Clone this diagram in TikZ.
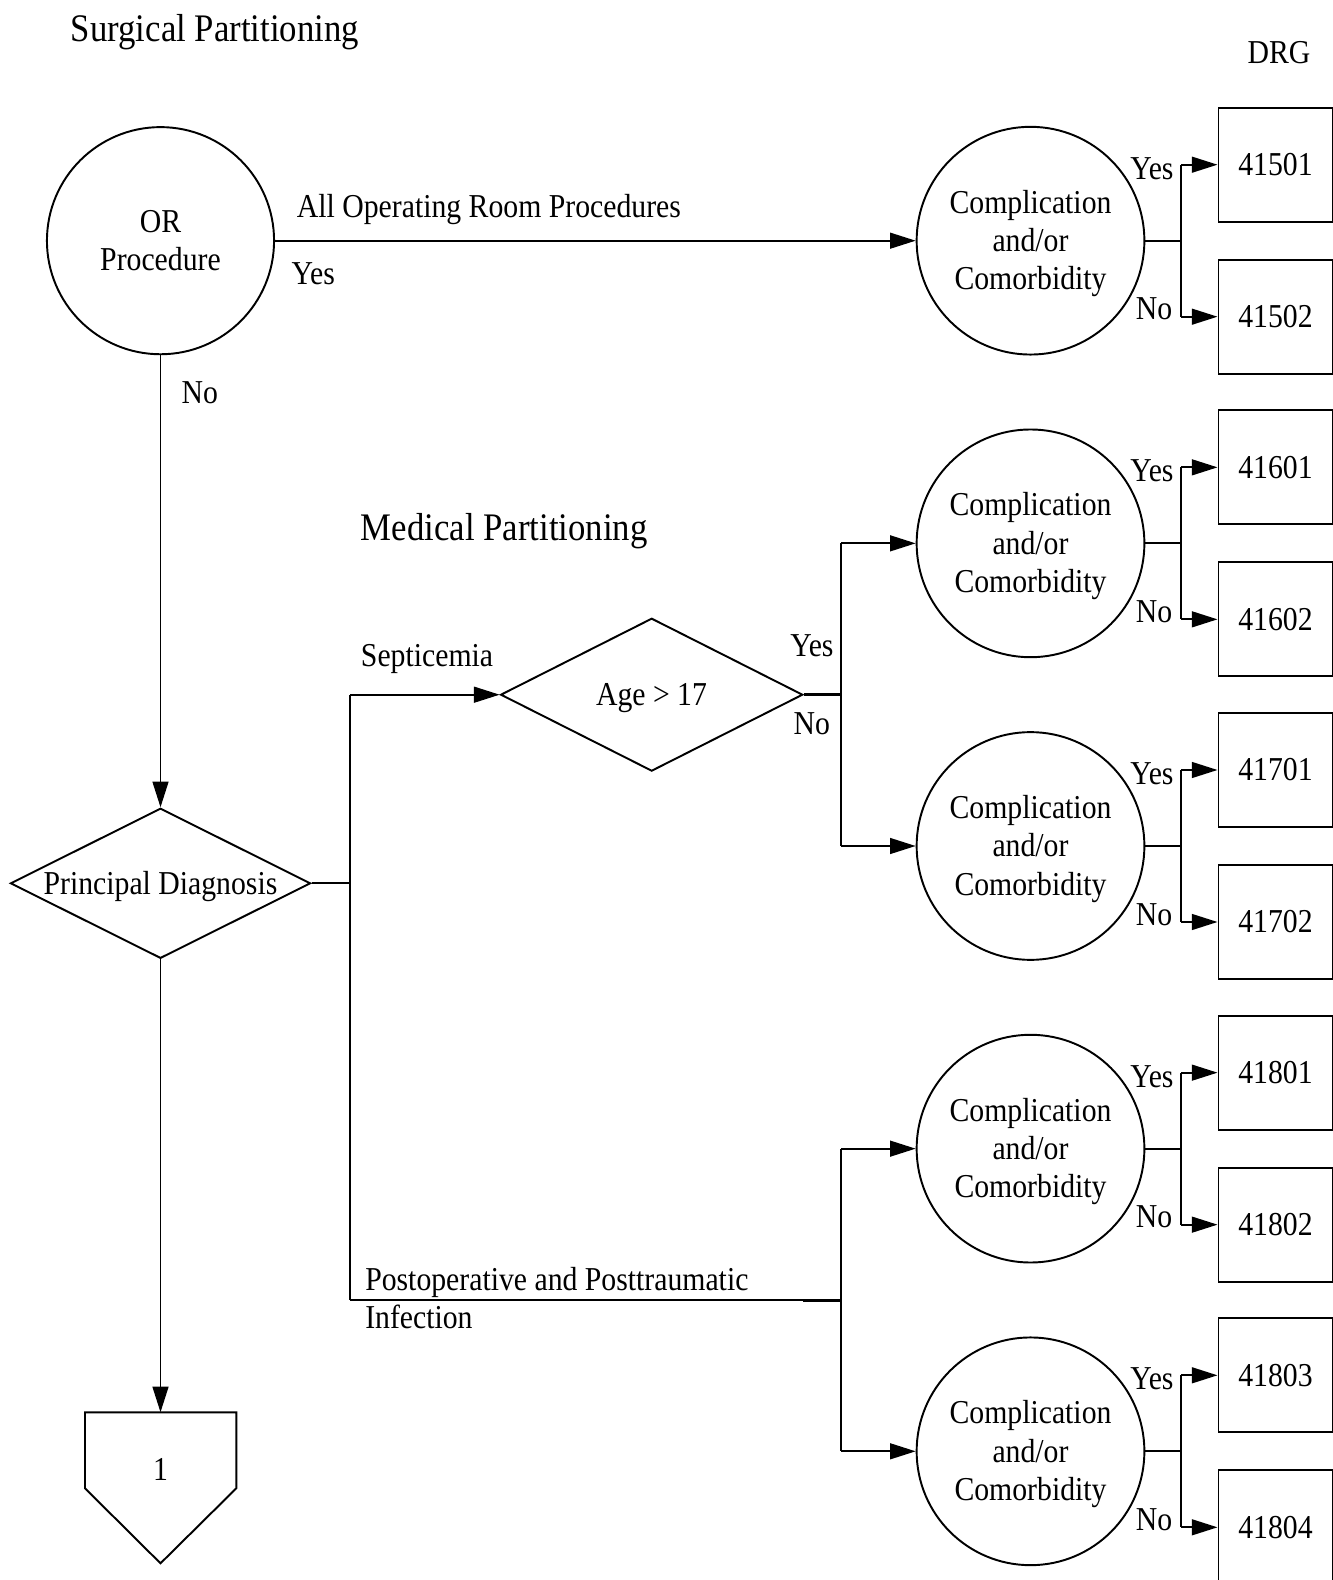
\documentclass[tikz,border=0pt]{standalone}
\usepackage{fontspec}
\setmainfont[FakeStretch=0.89]{Liberation Serif}
\usetikzlibrary{arrows.meta,shapes.geometric}
\begin{document}
\begin{tikzpicture}[x=0.01cm,y=-0.01cm,
  line width=0.55pt,
  every node/.style={font=\fontsize{9.5pt}{10.9pt}\selectfont},
  ttl/.style={font=\fontsize{11.1pt}{13pt}\selectfont, anchor=base west, inner sep=0},
  lbl/.style={anchor=base west, inner sep=0},
  ctr/.style={anchor=base, inner sep=0},
  cc/.style={circle, draw, minimum size=2.276cm, inner sep=0, align=center},
  orc/.style={circle, draw, minimum size=2.27cm, inner sep=0, align=center},
  dia/.style={diamond, draw, inner sep=0},
  drg/.style={rectangle, draw, minimum width=1.14cm, minimum height=1.14cm, inner sep=0},
  arr/.style={-{Triangle[length=7.3pt,width=4.5pt]}},
  thk/.style={line width=0.85pt}]
\useasboundingbox (0,0) rectangle (1332,1580);

% titles
\node[ttl] (tsurg) at (70,41.7) {Surgical Partitioning};
\node[ttl] (tmed) at (360,540.7) {Medical Partitioning};
\node[lbl] (tdrg) at (1246.7,63.3) {DRG};

% OR procedure
\node[orc] (or) at (160.5,240.7) {OR\\Procedure};
\node[lbl] (lallor) at (296,217.3) {All Operating Room Procedures};
\node[lbl] (loryes) at (290.7,285) {Yes};
\node[lbl] (lorno) at (180.7,403.3) {No};

% principal diagnosis
\node[dia, minimum width=3.0cm, minimum height=1.5cm] (pd) at (160.5,883.3) {};
\node[ctr] (pdt) at (160.5,894) {Principal Diagnosis};

% age diamond
\node[dia, minimum width=3.02cm, minimum height=1.528cm] (age) at (651.7,694.7) {};
\node[ctr] (aget) at (651.5,705.7) {Age > 17};
\node[lbl] (lsep) at (360,666.7) {Septicemia};
\node[lbl] (lageyes) at (789.3,656.7) {Yes};
\node[lbl] (lageno) at (792.7,735) {No};

% postoperative label
\node[lbl] (lpost1) at (364.3,1290.5) {Postoperative and Posttraumatic};
\node[lbl] (lpost2) at (364.3,1328.8) {Infection};

% off-page connector
\coordinate (pent) at (160.5,1412.3);
\draw (85,1412.3) -- (236.3,1412.3) -- (236.3,1488.3) -- (160.5,1563.3) -- (85,1488.3) -- cycle;
\node[ctr] (one) at (160.5,1480) {1};

% CC rows
\foreach \k/\yy/\ca/\cb in {1/240.7/41501/41502, 2/543.35/41601/41602, 3/846/41701/41702, 4/1148.65/41801/41802, 5/1451.3/41803/41804}{
  \node[cc] (cc\k) at (1030.5,\yy) {\rule{0pt}{8.2pt}Complication\\and/or\\Comorbidity};
  \node[drg] (ba\k) at (1275.5,\yy-76) {\ca};
  \node[drg] (bb\k) at (1275.5,\yy+76) {\cb};
  \coordinate (j\k) at (1181,\yy);
  \coordinate (ja\k) at (1181,\yy-76);
  \coordinate (jb\k) at (1181,\yy+76);
  \draw (cc\k.east) -- (j\k);
  \draw (ja\k) -- (jb\k);
  \draw[arr] (ja\k) -- (ba\k.west);
  \draw[arr] (jb\k) -- (bb\k.west);
  \node[lbl] (ly\k) at (1129.3,\yy-61.4) {Yes};
  \node[lbl] (ln\k) at (1135,\yy+79.3) {No};
}

% connectors
\draw[arr] (or.east) -- (cc1.west);
\draw[arr] (or.south) -- (pd.north);
\draw[arr] (pd.south) -- (pent);

\coordinate (jpd) at (350,883.3);
\coordinate (lb1) at (350,694.7);
\coordinate (lb2) at (350,1300);
\draw (pd.east) -- (jpd);
\draw (lb1) -- (lb2);
\draw[arr] (lb1) -- (age.west);

\coordinate (ab) at (841,694.7);
\coordinate (ab2) at (841,543.35);
\coordinate (ab3) at (841,846);
\draw[thk] (age.east) -- (ab);
\draw (ab2) -- (ab3);
\draw[arr] (ab2) -- (cc2.west);
\draw[arr] (ab3) -- (cc3.west);

\coordinate (pb) at (841,1300);
\coordinate (pbt) at (803,1300);
\coordinate (pb4) at (841,1148.65);
\coordinate (pb5) at (841,1451.3);
\draw (lb2) -- (pb);
\draw[thk] (pbt) -- (pb);
\draw (pb4) -- (pb5);
\draw[arr] (pb4) -- (cc4.west);
\draw[arr] (pb5) -- (cc5.west);
\end{tikzpicture}
\end{document}
